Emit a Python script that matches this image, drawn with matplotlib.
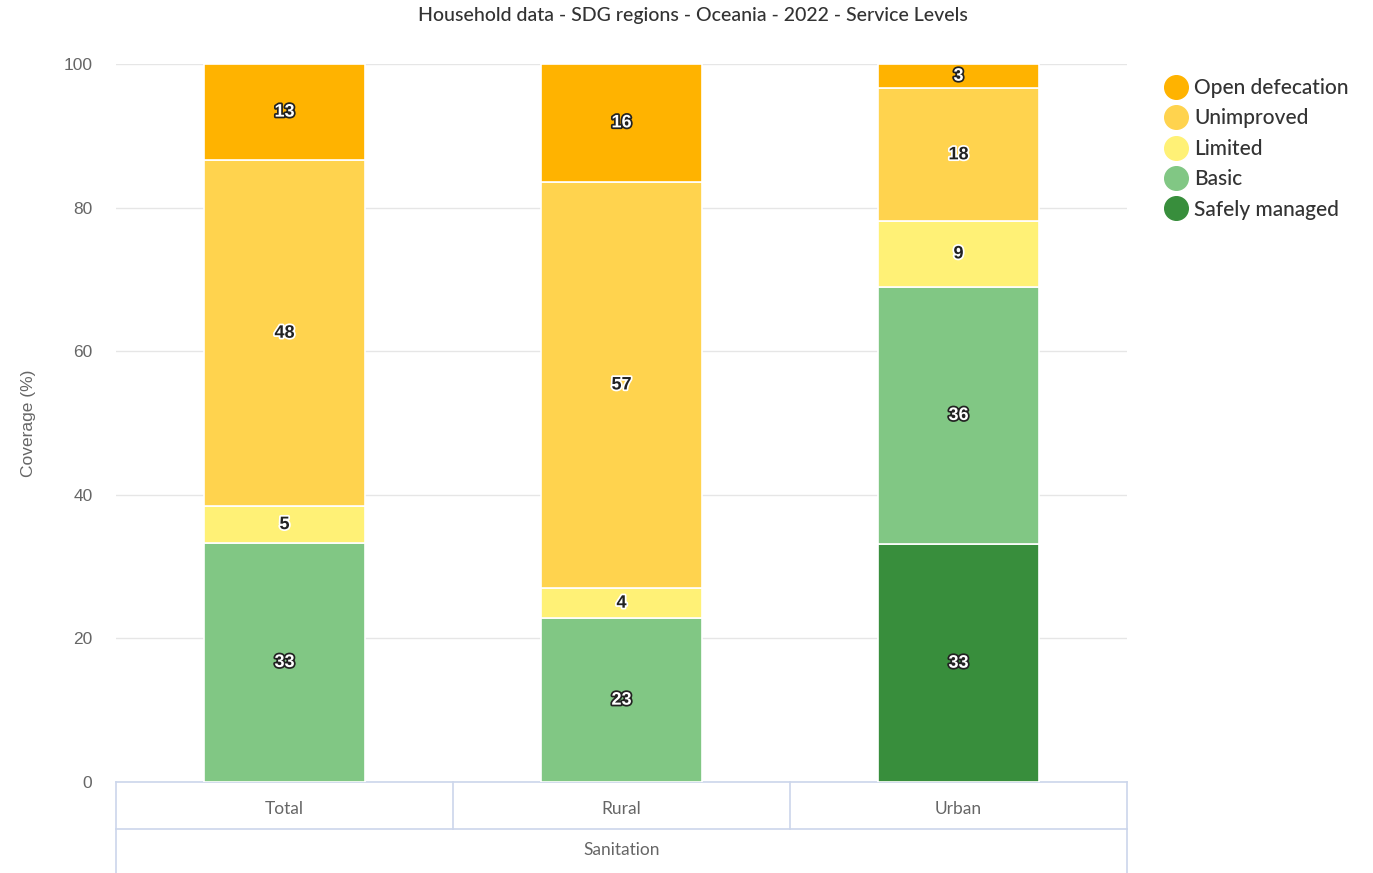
import numpy as np
import matplotlib
matplotlib.use("Agg")
import matplotlib.pyplot as plt
import matplotlib.patheffects as pe
from matplotlib.lines import Line2D

# service levels, bottom of the stack first
levels = ["Safely managed", "Basic", "Limited", "Unimproved", "Open defecation"]
colors = ["#388E3C", "#81C784", "#FFF176", "#FFD34E", "#FFB300"]
# white label with dark outline on the darker fills
dark_fill = [True, True, False, False, True]

categories = ["Total", "Rural", "Urban"]
group_name = "Sanitation"

safely_managed = [0, 0, 33.1]
basic = [33.3, 22.8, 35.9]
limited = [5.1, 4.2, 9.1]
unimproved = [48.2, 56.6, 18.5]
open_defecation = [13.4, 16.4, 3.4]
series = [safely_managed, basic, limited, unimproved, open_defecation]

W, H = 1373, 873
fig = plt.figure(figsize=(W / 100, H / 100), dpi=100)
ax = fig.add_axes([116 / W, 1 - 782 / H, (1127 - 116) / W, (782 - 64) / H])
plot_h = 782 - 64

x = np.arange(len(categories))
bottom = np.zeros(len(categories))
handles = []
for name, vals, col, dk in zip(levels, series, colors, dark_fill):
    vals = np.array(vals, dtype=float)
    ax.bar(x, vals, width=0.475, bottom=bottom, color=col,
           edgecolor="white", linewidth=1.2, zorder=3)
    for xi, b, v in zip(x, bottom, vals):
        if v <= 0:
            continue
        if dk:
            txt_col, stroke = "white", "#222222"
        else:
            txt_col, stroke = "#222222", "white"
        ax.text(xi, b + v / 2, f"{v:.0f}", ha="center", va="center",
                fontsize=13, fontweight="bold", color=txt_col,
                family="Liberation Sans", zorder=5,
                path_effects=[pe.withStroke(linewidth=2.5, foreground=stroke)])
    bottom += vals
    handles.append(Line2D([], [], marker="o", linestyle="", markersize=17,
                          markerfacecolor=col, markeredgecolor=col, label=name))

ax.set_xlim(-0.5, len(categories) - 0.5)
ax.set_ylim(0, 100)
ax.set_yticks(np.arange(0, 101, 20))
ax.yaxis.grid(True, color="#e6e6e6", linewidth=1, zorder=0)
ax.tick_params(axis="y", length=0, pad=17, labelsize=12.5, labelcolor="#666666")
for lab in ax.get_yticklabels():
    lab.set_family("Liberation Sans")
ax.set_xticks([])
for s in ax.spines.values():
    s.set_visible(False)

ax.set_ylabel("Coverage (%)", fontsize=12.5, color="#666666",
              family="Liberation Sans", labelpad=20)

# category table under the plot
line_kw = dict(color="#ccd6eb", linewidth=1.2, clip_on=False,
               transform=ax.transAxes)
row1 = -(829 - 782) / plot_h
row2 = -(873 - 782) / plot_h
ax.plot([0, 1], [0, 0], **line_kw)
ax.plot([0, 1], [row1, row1], **line_kw)
n = len(categories)
for i in range(n + 1):
    ax.plot([i / n, i / n], [0, row1], **line_kw)
ax.plot([0, 0], [row1, row2], **line_kw)
ax.plot([1, 1], [row1, row2], **line_kw)
for i, c in enumerate(categories):
    ax.text((i + 0.5) / n, -(809 - 782) / plot_h, c, transform=ax.transAxes,
            ha="center", va="center", fontsize=12.5, color="#666666",
            family="Lato")
ax.text(0.5, -(850 - 782) / plot_h, group_name, transform=ax.transAxes,
        ha="center", va="center", fontsize=12.5, color="#666666", family="Lato")

fig.text(693 / W, 1 - 16 / H,
         "Household data - SDG regions - Oceania - 2022 - Service Levels",
         ha="center", va="center", fontsize=14, color="#333333", family="Lato",
         fontweight="medium")

leg = fig.legend(handles=handles[::-1], loc="upper left",
                 bbox_to_anchor=(1166 / W, 1 - 78 / H), frameon=False,
                 prop={"family": "Lato", "size": 15, "weight": "medium"},
                 labelcolor="#333333",
                 handletextpad=0.35, labelspacing=0.5, borderaxespad=0,
                 borderpad=0, handlelength=1.0)

fig.savefig("out.png", dpi=100)
